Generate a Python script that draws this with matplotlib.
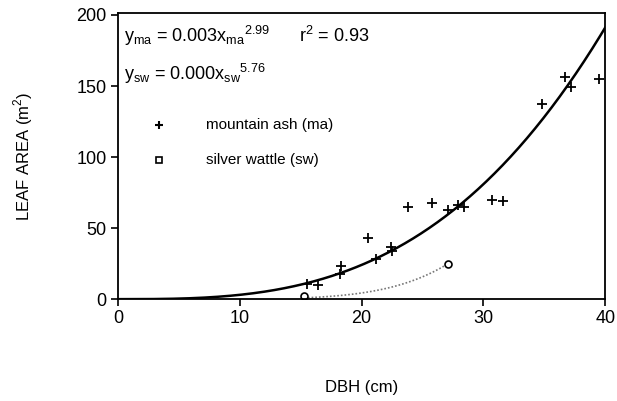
import numpy as np
import matplotlib
matplotlib.use("Agg")
import matplotlib.pyplot as plt

plt.rcParams['font.family'] = ['Liberation Sans', 'DejaVu Sans']
plt.rcParams['mathtext.fontset'] = 'custom'
plt.rcParams['mathtext.rm'] = 'Liberation Sans'

# Mountain ash data (DBH cm, leaf area m2)
ma_dbh = [15.5, 16.4, 18.3, 18.2, 20.5, 21.2, 22.4, 22.5, 23.8, 25.8, 27.1, 27.9, 28.4,
          30.7, 31.6, 34.8, 36.7, 37.2, 39.5]
ma_la = [10.6, 9.9, 23, 17.6, 43, 28, 37, 34, 65, 68, 63, 66, 65,
         70, 69, 137, 156, 149, 155]
# Silver wattle data
sw_dbh = [15.3, 27.1]
sw_la = [2, 25]

# Fitted models
ma_a, ma_b = 0.0031, 2.99
sw_b = 5.76
sw_a = sw_la[1] / sw_dbh[1] ** sw_b

fig = plt.figure(figsize=(6.17, 4.01), dpi=100)
ax = fig.add_axes([0.191, 0.254, 0.790, 0.714])

xc = np.linspace(0, 40, 300)
ax.plot(xc, ma_a * xc ** ma_b, color='black', lw=1.8)
xs = np.linspace(sw_dbh[0], sw_dbh[1], 100)
ax.plot(xs, sw_a * xs ** sw_b, color='#777777', lw=1.2, ls=(0, (1, 1.2)))

ax.plot(ma_dbh, ma_la, ls='none', marker='+', ms=7, mew=1.3, color='black')
ax.plot(sw_dbh, sw_la, ls='none', marker='o', ms=5, mew=1.2, mfc='white', mec='black')

ax.set_xlim(0, 40)
ax.set_ylim(0, 201.5)
ax.set_xticks([0, 10, 20, 30, 40])
ax.set_yticks([0, 50, 100, 150, 200])
ax.tick_params(direction='out', length=5, width=1.2, labelsize=13, pad=3)
for s in ax.spines.values():
    s.set_linewidth(1.3)

ax.set_xlabel('DBH (cm)', fontsize=12, va='center')
ax.xaxis.set_label_coords(0.5, -0.308)
ax.set_ylabel('LEAF AREA (m$^2$)', fontsize=12, va='center')
ax.yaxis.set_label_coords(-0.195, 0.5)

ax.text(0.012, 0.92, r'y$_{\rm ma}$ = 0.003x$_{\rm ma}$$^{2.99}$      r$^2$ = 0.93',
        transform=ax.transAxes, fontsize=13, ha='left', va='center')
ax.text(0.012, 0.785, r'y$_{\rm sw}$ = 0.000x$_{\rm sw}$$^{5.76}$',
        transform=ax.transAxes, fontsize=13, ha='left', va='center')

ax.plot([0.085], [0.608], transform=ax.transAxes, marker='+', ms=6, mew=1.5, color='black', clip_on=False)
ax.text(0.18, 0.608, 'mountain ash (ma)', transform=ax.transAxes, fontsize=11, va='center')
ax.plot([0.085], [0.487], transform=ax.transAxes, marker='s', ms=4, mew=1.2, mfc='white', mec='black', clip_on=False)
ax.text(0.18, 0.487, 'silver wattle (sw)', transform=ax.transAxes, fontsize=11, va='center')

fig.savefig('out.png', dpi=100)
